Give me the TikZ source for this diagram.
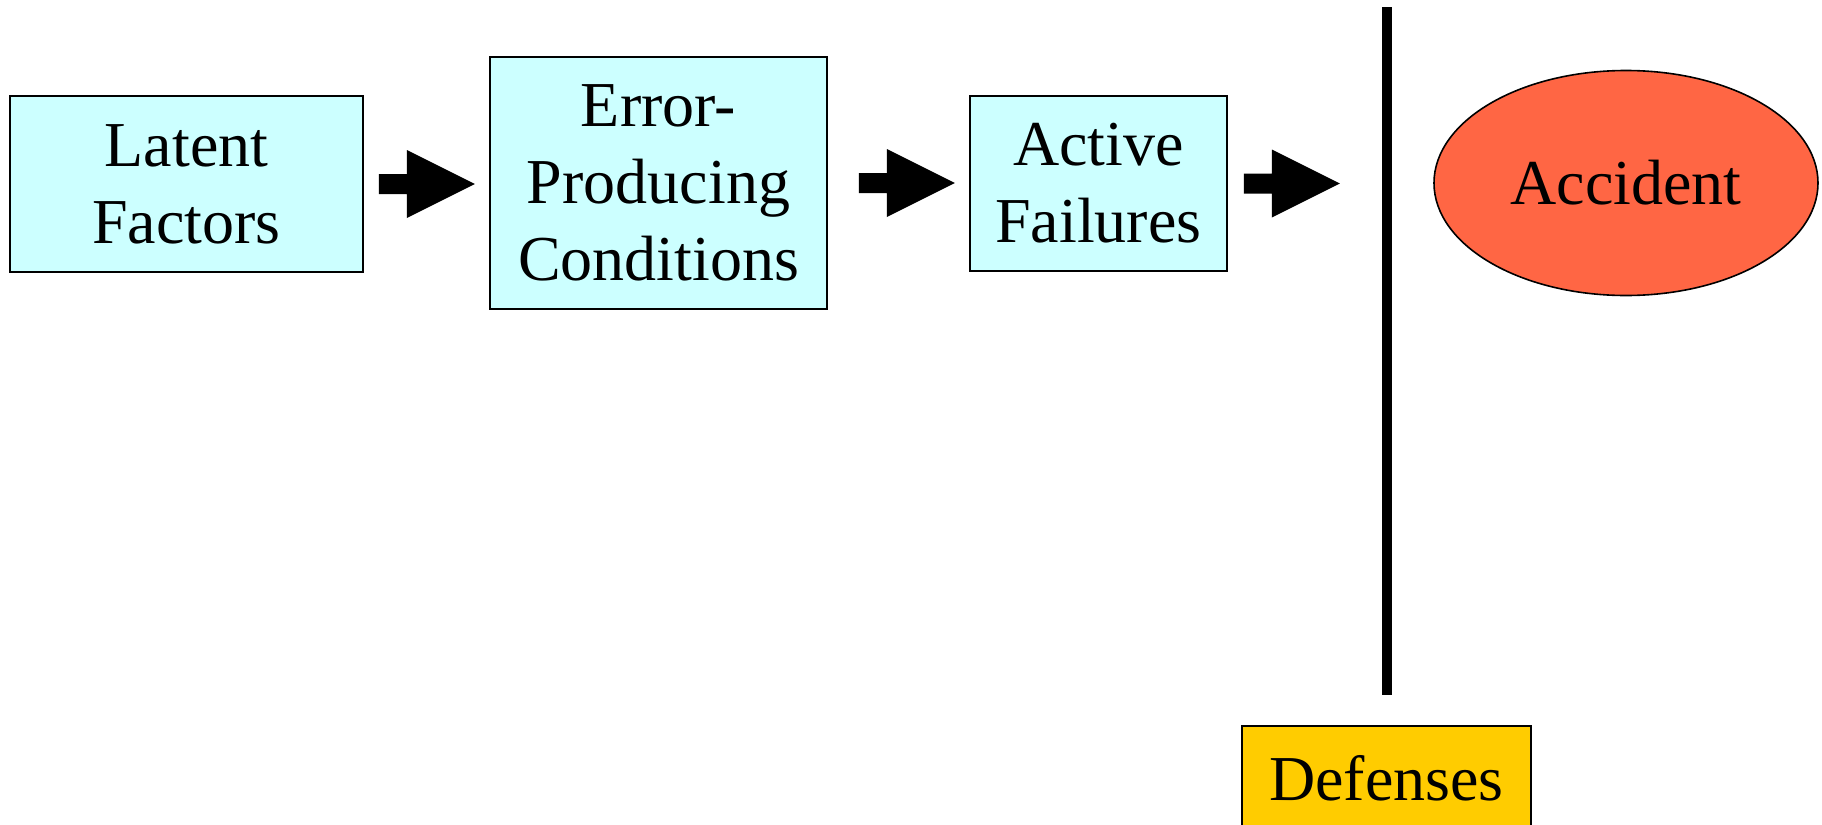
\documentclass[tikz,border=0pt]{standalone}
\usepackage{fontspec}
\setmainfont{Liberation Serif}
\usetikzlibrary{calc,shapes.geometric}
\definecolor{boxcyan}{HTML}{CCFFFF}
\definecolor{accred}{HTML}{FF6644}
\definecolor{defyellow}{HTML}{FFCC00}
\tikzset{
  stage/.style={draw,line width=0.8pt,fill=boxcyan,align=center,inner sep=0pt,
    font=\fontsize{32}{38.5}\selectfont},
  blockarr/.pic={\fill (0,-10) -- (28,-10) -- (28,-34) -- (96,0) -- (28,34) -- (28,10) -- (0,10) -- cycle;},
  barline/.style={line width=5pt}
}
\begin{document}
\begin{tikzpicture}[x=0.5pt,y=-0.5pt]
\useasboundingbox (0,0) rectangle (1822,825);
\node[stage,minimum width=176.5pt,minimum height=88pt] (latent) at (186.5,184) {Latent\\Factors};
\node[stage,minimum width=168.5pt,minimum height=126pt] (error) at (658.5,183) {Error-\\Producing\\Conditions};
\node[stage,minimum width=128.5pt,minimum height=87.5pt] (active) at (1098.5,183.5) {Active\\Failures};
\node[stage,ellipse,fill=accred,minimum width=192pt,minimum height=112.5pt] (accident) at (1626,183) {Accident};
\node[stage,fill=defyellow,minimum width=144.5pt,minimum height=52pt] (defenses) at (1386.5,778) {Defenses};
\coordinate (bartop) at (1387,7);
\coordinate (barbot) at (1387,695);
\draw[barline] (bartop) -- (barbot);
\pic at ($(latent.east)+(15,0)$) {blockarr};
\pic at ($(error.east)+(31,0)$) {blockarr};
\pic at ($(active.east)+(16,0)$) {blockarr};
\end{tikzpicture}
\end{document}
